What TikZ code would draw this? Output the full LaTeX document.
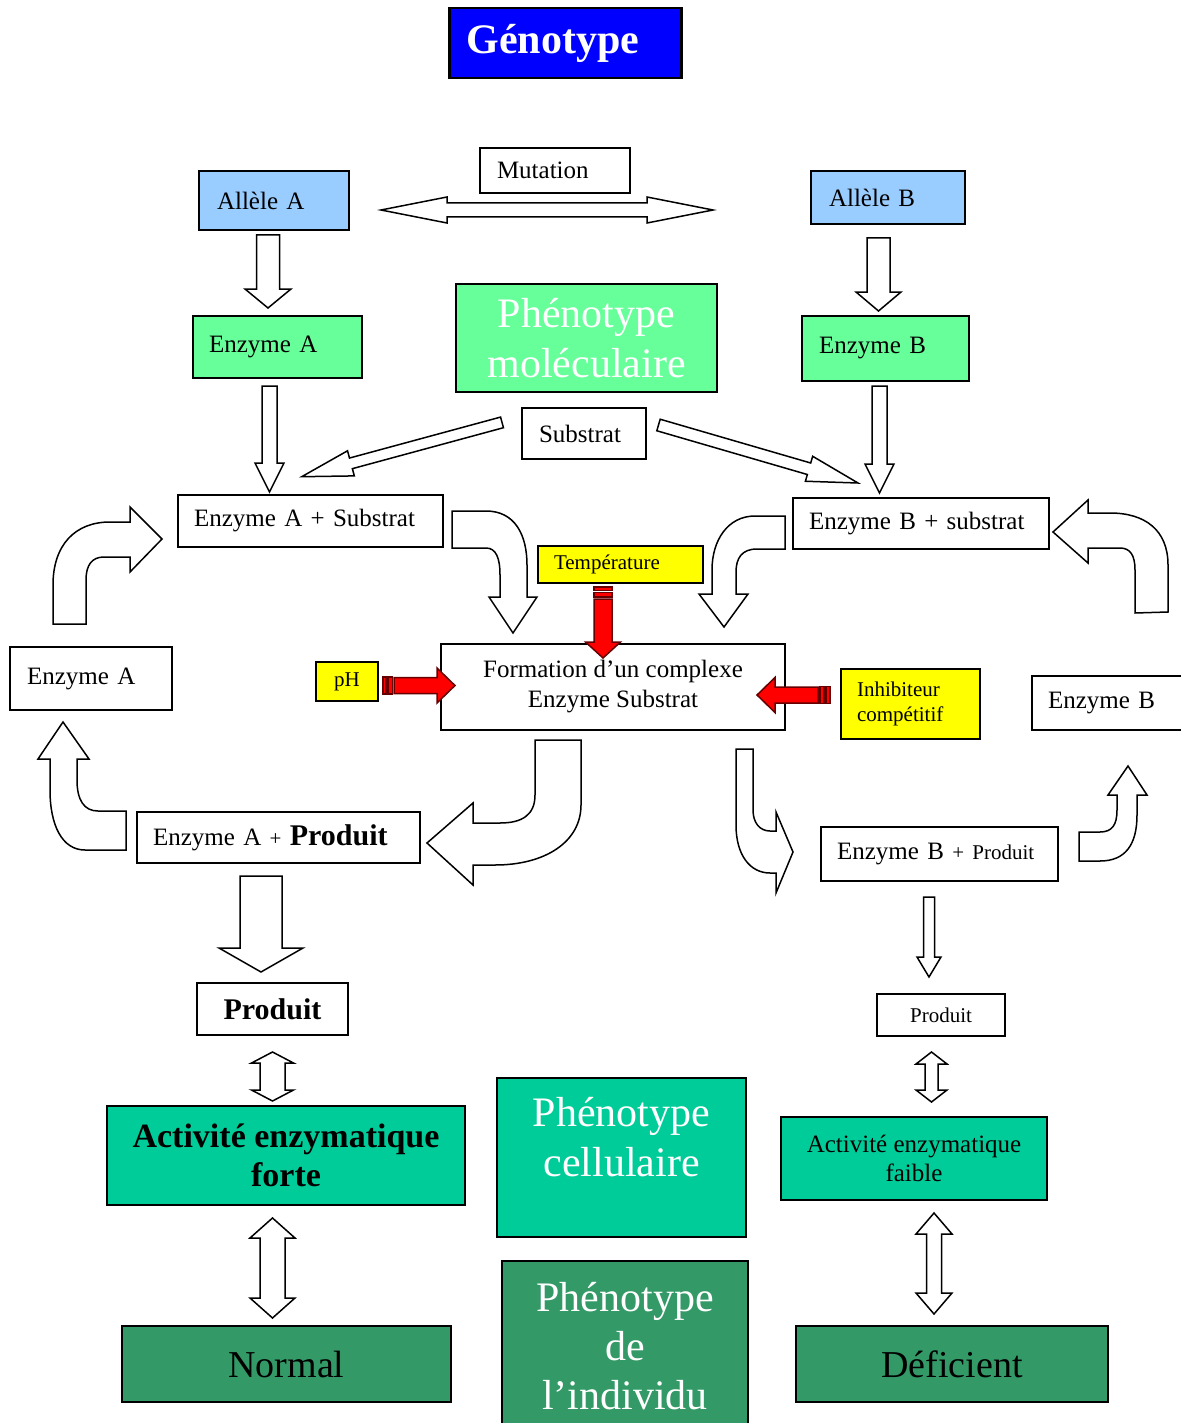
\documentclass[tikz,border=0pt]{standalone}
\usepackage{fontspec}
\setmainfont{Liberation Serif}
\usepackage{tikz}
\usepackage{xcolor}

\definecolor{gblue}{RGB}{0,0,255}
\definecolor{lblue}{RGB}{153,204,255}
\definecolor{lgreen}{RGB}{102,255,153}
\definecolor{tgreen}{RGB}{0,204,153}
\definecolor{dgreen}{RGB}{51,153,102}
\definecolor{ylw}{RGB}{255,255,0}

\newcommand{\fsz}[2]{\fontsize{#1}{#2}\selectfont}

% flèche pleine : [style] x1 y1 x2 y2 demi-tige demi-pointe longueur-pointe
\newcommand{\blockarrow}[8][]{%
  \pgfmathsetmacro{\bl}{100*veclen((#4-#2)/100,(#5-#3)/100)}%
  \pgfmathsetmacro{\bux}{(#4-#2)/\bl}%
  \pgfmathsetmacro{\buy}{(#5-#3)/\bl}%
  \pgfmathsetmacro{\bnx}{-\buy}%
  \pgfmathsetmacro{\bny}{\bux}%
  \pgfmathsetmacro{\bbx}{#4-#8*\bux}%
  \pgfmathsetmacro{\bby}{#5-#8*\buy}%
  \draw[blk,#1] ({#2+#6*\bnx},{#3+#6*\bny}) -- ({\bbx+#6*\bnx},{\bby+#6*\bny})
    -- ({\bbx+#7*\bnx},{\bby+#7*\bny}) -- (#4,#5) -- ({\bbx-#7*\bnx},{\bby-#7*\bny})
    -- ({\bbx-#6*\bnx},{\bby-#6*\bny}) -- ({#2-#6*\bnx},{#3-#6*\bny}) -- cycle;}

% flèche pleine à deux pointes
\newcommand{\dblarrow}[8][]{%
  \pgfmathsetmacro{\bl}{100*veclen((#4-#2)/100,(#5-#3)/100)}%
  \pgfmathsetmacro{\bux}{(#4-#2)/\bl}%
  \pgfmathsetmacro{\buy}{(#5-#3)/\bl}%
  \pgfmathsetmacro{\bnx}{-\buy}%
  \pgfmathsetmacro{\bny}{\bux}%
  \pgfmathsetmacro{\bax}{#2+#8*\bux}%
  \pgfmathsetmacro{\bay}{#3+#8*\buy}%
  \pgfmathsetmacro{\bbx}{#4-#8*\bux}%
  \pgfmathsetmacro{\bby}{#5-#8*\buy}%
  \draw[blk,#1] (#2,#3) -- ({\bax+#7*\bnx},{\bay+#7*\bny}) -- ({\bax+#6*\bnx},{\bay+#6*\bny})
    -- ({\bbx+#6*\bnx},{\bby+#6*\bny}) -- ({\bbx+#7*\bnx},{\bby+#7*\bny}) -- (#4,#5)
    -- ({\bbx-#7*\bnx},{\bby-#7*\bny}) -- ({\bbx-#6*\bnx},{\bby-#6*\bny})
    -- ({\bax-#6*\bnx},{\bay-#6*\bny}) -- ({\bax-#7*\bnx},{\bay-#7*\bny}) -- cycle;}

\begin{document}
\begin{tikzpicture}[x=0.5pt, y=-0.5pt,
  box/.style={draw, line width=0.75pt, inner ysep=0pt, font=\fsz{12.5}{15}},
  lbox/.style={box, align=left, inner xsep=8pt},
  cbox/.style={box, align=center, inner xsep=0pt},
  blk/.style={draw, fill=white, line width=0.75pt, line join=miter},
  redarr/.style={draw=red!40!black, fill=red, line width=0.75pt},
  stripe/.style={draw=red!40!black, fill=red, line width=0.6pt}]
\clip (0,0) rectangle (1181,1423);

% Génotype
\node[lbox, fill=gblue, text=white, line width=1.3pt, font=\fsz{21}{25}\bfseries,
      minimum height=35pt, text width=99pt, inner xsep=8.5pt] (genotype) at (565.5,43) {Génotype};
\node[lbox, minimum height=22.5pt, text width=58pt, inner xsep=8.5pt] (mutation) at (555,170.5) {Mutation};
\node[lbox, fill=lblue, minimum height=29.5pt, text width=57pt, inner xsep=9pt] (alleleA) at (274,200.5) {Allèle A};
\node[lbox, fill=lblue, minimum height=26.5pt, text width=59pt, inner xsep=9pt] (alleleB) at (888,197.5) {Allèle B};

% Phénotype moléculaire
\node[lbox, fill=lgreen, minimum height=31pt, text width=68.5pt] (enzA) at (277.5,347) {Enzyme A};
\node[lbox, fill=lgreen, minimum height=32.5pt, text width=66.5pt, inner xsep=8.5pt] (enzB) at (885.5,348.5) {Enzyme B};
\node[cbox, fill=lgreen, text=white, font=\fsz{21}{25}, minimum width=130.5pt, minimum height=54pt] (phenoMol) at (586.5,338) {Phénotype\\moléculaire};
\node[lbox, minimum height=25.5pt, text width=45pt, inner xsep=8.5pt] (substrat) at (584,433.5) {Substrat};
\node[lbox, minimum height=26pt, text width=116.5pt] (enzAS) at (310.5,521) {Enzyme A + Substrat};
\node[lbox, minimum height=25.5pt, text width=112pt] (enzBS) at (921,523.5) {Enzyme B + substrat};

% Complexe et facteurs
\node[lbox, fill=ylw, font=\fsz{10.5}{12.5}, minimum height=18.5pt, text width=66.5pt] (temp) at (620.5,564.5) {Température};
\node[cbox, fill=ylw, font=\fsz{10.5}{12.5}, minimum width=31pt, minimum height=19.5pt] (ph) at (347,681.5) {pH};
\node[cbox, minimum width=172pt, minimum height=43pt] (formation) at (613,687) {Formation d’un complexe\\Enzyme Substrat};
\node[lbox, fill=ylw, font=\fsz{10.5}{12.5}, minimum height=35pt, text width=53.5pt] (inhib) at (910.5,704) {Inhibiteur\\compétitif};
\node[lbox, minimum height=31.5pt, text width=64pt, inner xsep=8.5pt] (enzAlibre) at (91,678.5) {Enzyme A};
\node[lbox, minimum height=27pt, text width=63pt] (enzBlibre) at (1111,703) {Enzyme B};

% Produits
\node[lbox, minimum height=25.5pt, text width=125.5pt] (enzAP) at (278.5,837.5) {Enzyme A {\fsz{10.5}{12.5}+} {\fsz{15}{18}\bfseries Produit}};
\node[lbox, minimum height=27pt, text width=102.5pt] (enzBP) at (939.5,854) {Enzyme B {\fsz{10.5}{12.5}+ Produit}};
\node[cbox, font=\fsz{15}{18}\bfseries, minimum width=75.5pt, minimum height=26pt] (produitA) at (272.5,1009) {Produit};
\node[cbox, font=\fsz{10.5}{12.5}, minimum width=64pt, minimum height=21pt] (produitB) at (941,1015) {Produit};

% Phénotypes cellulaire et de l'individu
\node[cbox, fill=tgreen, font=\fsz{17}{19.5}\bfseries, minimum width=179pt, minimum height=49.5pt] (actForte) at (286,1155.5) {Activité enzymatique\\forte};
\node[box, fill=tgreen, inner sep=0pt, text=white, font=\fsz{21}{25}] (phenoCell) at (621.5,1157.5)
  {\parbox[c][79.5pt][t]{124.5pt}{\centering\rule{0pt}{24pt}Phénotype\\cellulaire}};
\node[cbox, fill=tgreen, font=\fsz{12.5}{14.5}, minimum width=133pt, minimum height=41.5pt] (actFaible) at (914,1158.5) {Activité enzymatique\\faible};
\node[cbox, fill=dgreen, font=\fsz{19}{22}, minimum width=164.5pt, minimum height=38pt] (normal) at (286.5,1364) {Normal};
\node[box, fill=dgreen, inner sep=0pt, text=white, font=\fsz{21}{24.5}] (phenoInd) at (625,1350.5)
  {\parbox[c][89.5pt][t]{123pt}{\centering\rule{0pt}{25pt}Phénotype\\de\\l’individu}};
\node[cbox, fill=dgreen, font=\fsz{19}{22}, minimum width=156pt, minimum height=38pt] (deficient) at (952,1364) {Déficient};

% Flèches droites
\dblarrow{381}{210}{713}{210}{7}{13}{66}
\blockarrow{268}{235}{268}{308}{11.5}{23}{19}
\blockarrow{878.5}{238}{878.5}{311}{11.5}{22.5}{19}
\blockarrow{269.5}{386}{269.5}{492}{7.5}{14.5}{29}
\blockarrow{879.5}{386}{879.5}{493}{7.5}{14.5}{29}
\blockarrow{502}{422.4}{301.7}{476.7}{5.5}{13}{51}
\blockarrow{658.5}{425}{858}{483}{6}{13}{51}
\blockarrow{261}{876}{261}{972}{21}{42}{24}
\blockarrow{929}{897}{929}{977}{5.5}{12}{20}
\dblarrow{272.5}{1052}{272.5}{1101}{12.5}{21}{11}
\dblarrow{272.5}{1218}{272.5}{1318}{12.5}{22.5}{20}
\dblarrow{931.5}{1052}{931.5}{1102}{6.5}{15.5}{12}
\dblarrow{934}{1213}{934}{1314}{7.5}{18}{21}

% Flèches courbes
\draw[blk] (452,511) -- (486,511) .. controls (515,511) and (527,535) .. (527,565) -- (527,597)
  -- (537,597) -- (513,633) -- (489,597) -- (500,597) -- (500,575)
  .. controls (500,558) and (496,548) .. (486,548) -- (452,548) -- cycle;
\draw[blk] (785,516) -- (755,516) .. controls (728,516) and (712,540) .. (712,570) -- (712,594)
  -- (699,594) -- (724,627) -- (748,594) -- (736,594) -- (736,572)
  .. controls (736,558) and (742,549) .. (757,549) -- (785,549) -- cycle;
\draw[blk] (53,624) -- (53,585) .. controls (53,545) and (75,522) .. (110,522) -- (130,522)
  -- (130,507) -- (162,539) -- (130,572) -- (130,557) -- (104,557)
  .. controls (92,557) and (86,565) .. (86,580) -- (86,624) -- cycle;
\draw[blk] (1168,612) -- (1168,565) .. controls (1168,530) and (1145,513) .. (1110,513) -- (1088,513)
  -- (1088,500) -- (1053,532) -- (1088,563) -- (1088,548) -- (1120,548)
  .. controls (1130,548) and (1135,555) .. (1135,570) -- (1135,613) -- cycle;
\draw[blk] (126,811) -- (98,811) .. controls (84,811) and (77,800) .. (77,780) -- (77,759)
  -- (89,759) -- (63,722) -- (38,759) -- (50,759) -- (50,790)
  .. controls (50,825) and (62,850) .. (85,850) -- (126,850) -- cycle;
\draw[blk] (535,740) -- (581,740) -- (581,805) .. controls (581,842) and (545,865) .. (495,865)
  -- (473,865) -- (473,885) -- (427,843) -- (473,803) -- (473,823) -- (500,823)
  .. controls (522,823) and (535,815) .. (535,795) -- cycle;
\draw[blk] (736,749) -- (753,749) -- (753,810) .. controls (753,823) and (760,831) .. (770,831)
  -- (776,831) -- (776,812) -- (793,852) -- (776,893) -- (776,873) -- (770,873)
  .. controls (750,873) and (736,855) .. (736,825) -- cycle;
\draw[blk] (1079,832) -- (1100,832) .. controls (1112,832) and (1117,825) .. (1117,810) -- (1117,795)
  -- (1108,795) -- (1128,766) -- (1147,795) -- (1137,795) -- (1137,815)
  .. controls (1137,845) and (1125,861) .. (1100,861) -- (1079,861) -- cycle;

% Facteurs (flèches rouges)
\blockarrow[redarr]{603}{599}{603}{658}{9}{17.5}{16}
\draw[stripe] (594,587) rectangle (612,590.5);
\draw[stripe] (594,592.5) rectangle (612,597);
\blockarrow[redarr]{394}{685.5}{455}{685.5}{8}{17.5}{18}
\draw[stripe] (383,677) rectangle (386,694);
\draw[stripe] (388,677) rectangle (392.5,694);
\blockarrow[redarr]{818}{695}{757}{695}{8}{17.5}{18}
\draw[stripe] (820,686.5) rectangle (824,703.5);
\draw[stripe] (826,686.5) rectangle (830,703.5);
\end{tikzpicture}
\end{document}
